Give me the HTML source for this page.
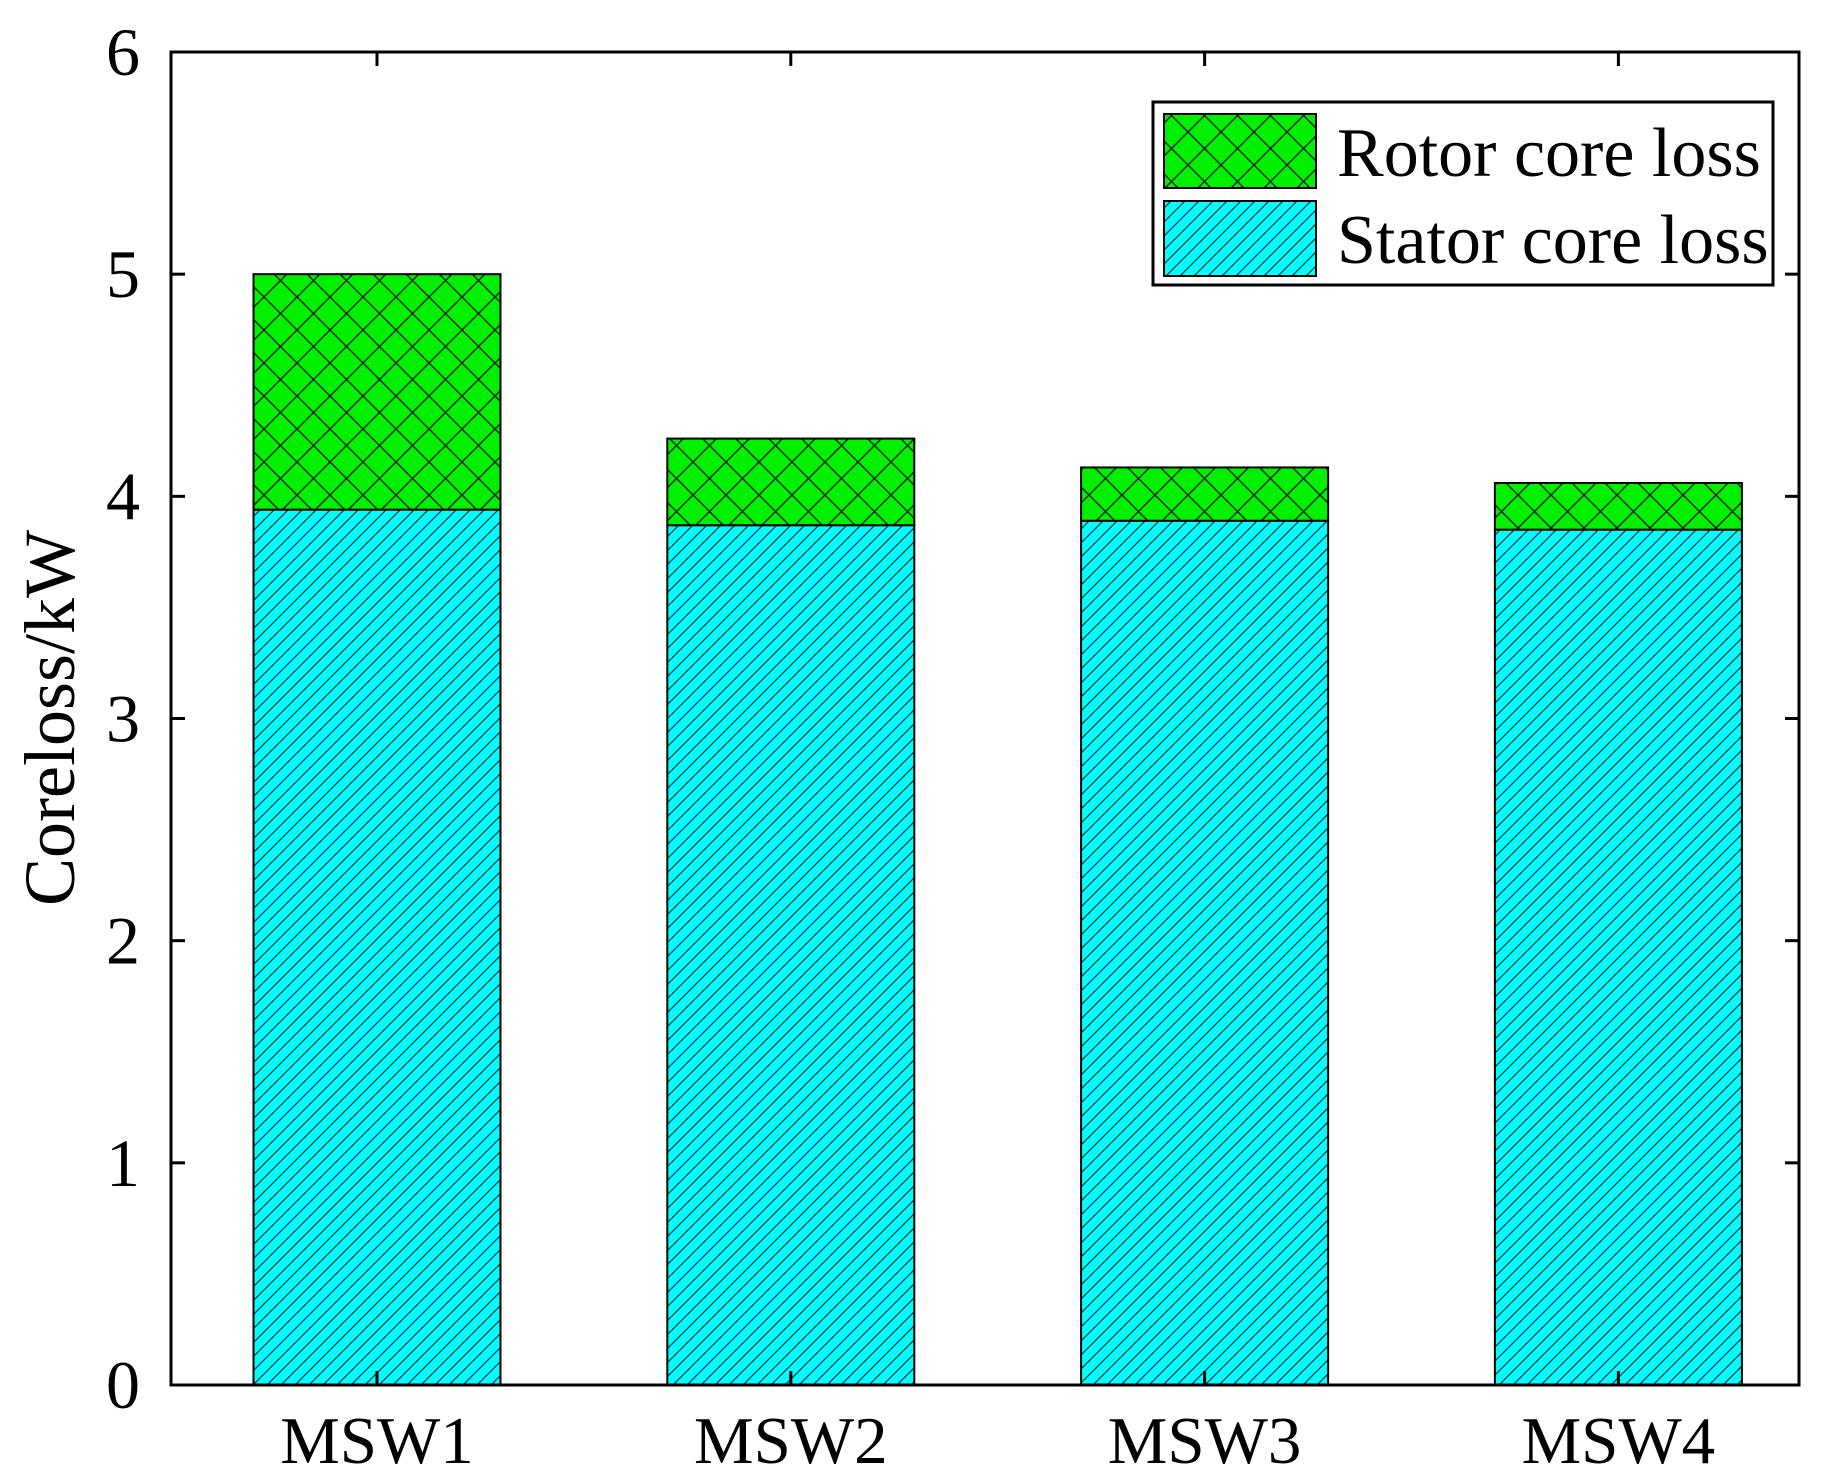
<!DOCTYPE html>
<html><head><meta charset="utf-8"><style>
html,body{margin:0;padding:0;background:#fff;}
svg{display:block;font-family:"Liberation Serif",serif;}
</style></head><body>
<svg id="chart" width="1847" height="1484" viewBox="0 0 1847 1484">
<defs>
<pattern id="hatchS" patternUnits="userSpaceOnUse" width="14" height="14">
<rect width="14" height="14" fill="#00ffff"/>
<path d="M-2,16 L16,-2 M-2,2 L2,-2 M12,16 L16,12" stroke="#1a3a3a" stroke-width="1.3"/>
</pattern>
<pattern id="hatchR" patternUnits="userSpaceOnUse" width="33" height="33">
<rect width="33" height="33" fill="#00f000"/>
<path d="M0,0 L33,33 M0,33 L33,0" stroke="#0a2a0a" stroke-width="1.5"/>
</pattern>
</defs>
<g id="bars"></g>
<g id="axes"></g>
<g>
<rect x="1153" y="102" width="620" height="183" fill="#fff" stroke="#000" stroke-width="3"/>
<rect x="1164" y="114" width="152" height="74" fill="url(#hatchR)" stroke="#000" stroke-width="2"/>
<text x="1337" y="176" font-size="70">Rotor core loss</text>
<rect x="1164" y="201" width="152" height="75" fill="url(#hatchS)" stroke="#000" stroke-width="2"/>
<text x="1337" y="263" font-size="70">Stator core loss</text>
</g>
<text transform="translate(74,718) rotate(-90)" text-anchor="middle" font-size="72">Coreloss/kW</text>
</svg>
<script>
const categories = ["MSW1","MSW2","MSW3","MSW4"];
const statorLoss = [3.94, 3.87, 3.89, 3.85];
const rotorLoss = [1.06, 0.39, 0.24, 0.21];
const yTicks = [0,1,2,3,4,5,6];

const L=171,R=1799,T=52,B=1385,ymax=6;
const NS="http://www.w3.org/2000/svg";
const y=v=>B-(v/ymax)*(B-T);
const step=413.8;
const xc=i=>L+206+step*i;
const bw=247;
function mk(tag,attrs,parent){const e=document.createElementNS(NS,tag);for(const k in attrs)e.setAttribute(k,attrs[k]);parent.appendChild(e);return e;}
const bars=document.getElementById('bars'),axes=document.getElementById('axes');
categories.forEach((c,i)=>{
  const s=mk('rect',{x:xc(i)-bw/2,y:y(statorLoss[i]),width:bw,height:B-y(statorLoss[i]),fill:'url(#hatchS)',stroke:'#000','stroke-width':2},bars);
  
  
  const tot=statorLoss[i]+rotorLoss[i];
  const r=mk('rect',{x:xc(i)-bw/2,y:y(tot),width:bw,height:y(statorLoss[i])-y(tot),fill:'url(#hatchR)',stroke:'#000','stroke-width':2},bars);
  
  
  const t=mk('text',{x:xc(i),y:1463,'text-anchor':'middle','font-size':67},axes);
  t.textContent=c;
  
  
  mk('line',{x1:xc(i),x2:xc(i),y1:B,y2:B-14,stroke:'#000','stroke-width':3},axes);
  mk('line',{x1:xc(i),x2:xc(i),y1:T,y2:T+14,stroke:'#000','stroke-width':3},axes);
});
yTicks.forEach(v=>{
  mk('line',{x1:L,x2:L+14,y1:y(v),y2:y(v),stroke:'#000','stroke-width':3},axes);
  mk('line',{x1:R,x2:R-14,y1:y(v),y2:y(v),stroke:'#000','stroke-width':3},axes);
  const t=mk('text',{x:140,y:y(v)+23,'text-anchor':'end','font-size':68},axes);
  t.textContent=v;
  
  
});
const f=mk('rect',{x:L,y:T,width:R-L,height:B-T,fill:'none',stroke:'#000','stroke-width':3},axes);


</script>
</body></html>
